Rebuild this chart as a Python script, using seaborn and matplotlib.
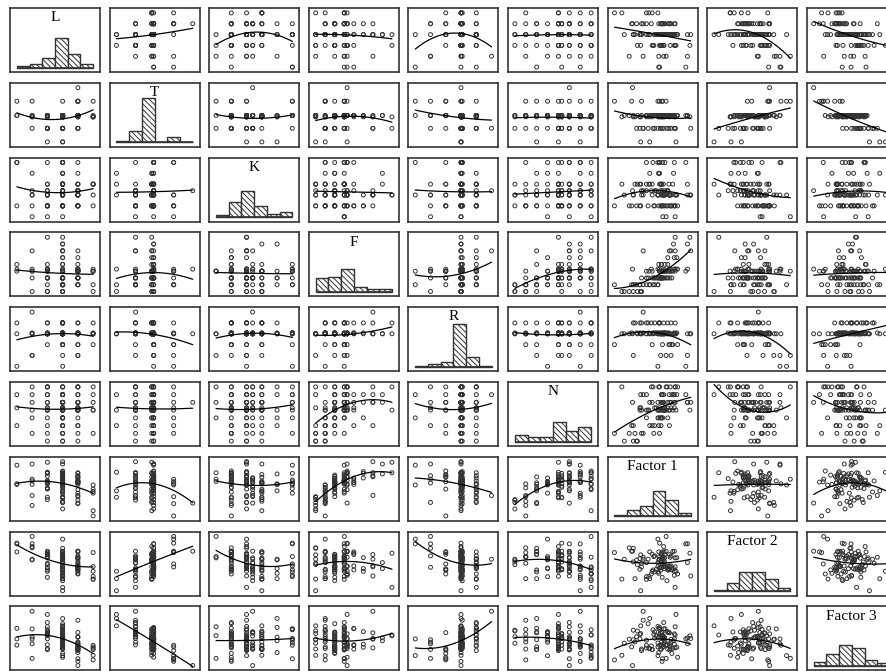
import numpy as np
import pandas as pd
import matplotlib
matplotlib.use("Agg")
import matplotlib.pyplot as plt
import seaborn as sns

names = ["L", "T", "K", "F", "R", "N", "Factor 1", "Factor 2", "Factor 3"]

L = [4, 5, 3, 4, 4, 6, 4, 5, 2, 4,
     3, 4, 4, 5, 4, 1, 4, 3, 5, 4,
     4, 5, 4, 3, 4, 4, 2, 5, 4, 6,
     5, 4, 3, 4, 4, 5, 4, 4, 3, 5,
     4, 2, 4, 5, 4, 3, 4, 6, 4, 5,
     3, 4, 5, 4, 1, 4, 4, 5, 3, 4,
     4, 5, 4, 3, 2, 4, 5, 4, 4, 6,
     5, 4, 3, 4, 4, 5, 4, 2, 4, 3,
     4, 5, 4, 6, 3, 4, 5, 4, 1, 4,
     5, 3, 4, 3, 2, 5, 4, 3, 6, 5]

T = [2.95, 2, 2.95, 2.85, 2.95, 4, 2.95, 2, 2.95, 2.85,
     2.95, 2.95, 2, 2.95, 2.85, 2.95, 1, 2.95, 4, 2.95,
     2.85, 2.95, 2.95, 2, 4, 2.95, 2.85, 2.95, 2, 2.95,
     2.95, 2, 2.85, 2.95, 2.95, 2.95, 2, 2.85, 2.95, 4,
     2.95, 2.85, 2, 2.95, 2.95, 1, 2.95, 2.85, 2.95, 2,
     2, 2.95, 2.95, 2.85, 4, 2.95, 2.85, 2.95, 2.85, 2.95,
     2.95, 2.85, 2.95, 2, 2.95, 2.95, 4, 2.95, 2, 2.85,
     5, 2.95, 2, 2.95, 2.85, 2.95, 2.95, 2, 2.95, 2.85,
     2.95, 4, 2.95, 2.85, 2, 2.95, 2.95, 1, 2.95, 2,
     2.85, 2.95, 2, 2.95, 4, 2.85, 2.95, 2, 2.85, 2.95]

K = [3, 2, 4, 3, 3.4, 2, 6, 3, 2, 4,
     2, 3, 3.4, 4, 3, 2, 5, 3, 2, 6,
     3, 4, 2, 3.4, 3, 1, 5, 3, 4, 3,
     3.4, 2, 3, 6, 2, 4, 3, 4, 2, 3,
     4, 3, 2, 3.4, 5, 3, 2, 4, 3, 2,
     2, 3.4, 3, 4, 6, 2, 3, 3.4, 2, 4,
     3, 2, 4, 1, 3, 3.4, 6, 6, 3, 4,
     3.4, 3, 2, 4, 2, 3, 5, 3.4, 3, 2,
     6, 2, 3, 4, 3.4, 2, 3, 4, 6, 3,
     2, 4, 3.4, 3, 1, 5, 2, 6, 4, 3.4]

F = [1, 2, 1, 2, 1, 2, 4, 2, 1, 2,
     3, 1, 2, 3, 7, 5, 2, 3, 2, 2,
     3, 4, 6, 3, 2, 4, 3, 3, 4, 4.3,
     4, 3, 9, 5, 4, 3, 2, 4, 4.3, 3,
     4, 4, 2, 3, 4, 4.3, 3, 4, 3, 4,
     4.3, 3, 4, 2, 4.3, 3, 4, 5, 1, 8,
     7, 6, 5, 4, 4.3, 3, 4, 3, 7, 4,
     4.3, 3, 4, 2, 3, 4, 8, 7, 6, 5,
     4.3, 4, 3, 4, 3, 3, 4.3, 1, 4, 9,
     7, 4, 3, 4.3, 4, 3, 4.3, 2, 1, 4.3]

R = [4, 4.08, 4, 5, 4, 3, 4, 4.08, 4, 5,
     4, 2, 4.08, 4, 4, 5, 4, 3, 4.08, 4,
     4.08, 4, 5, 4, 1, 4, 4.08, 4, 3, 4,
     4, 5, 4, 4.08, 4, 2, 4, 4, 4.08, 5,
     3, 4, 4.08, 4, 5, 4, 4, 4.08, 4, 2,
     4, 4.08, 4, 5, 4, 5, 4.08, 4, 4, 4,
     5, 4, 4.08, 4, 2, 4, 3, 4.08, 4, 4,
     4, 4.08, 5, 4, 4, 3, 4, 6, 4.08, 4,
     4.08, 4, 4, 5, 4, 3, 4.08, 4, 1, 5,
     4, 5, 4.08, 4, 2, 4, 3, 4.08, 4, 5]

N = [1, 1, 1, 1, 2, 2, 2, 2, 2, 2,
     2, 3, 3, 3, 3, 3, 3, 3, 3, 4,
     4, 4, 4, 4, 4, 4, 4, 5, 5, 5,
     5, 5, 5, 5, 5, 5, 5, 5, 5, 5,
     5, 5, 5, 5, 5, 5, 5, 5, 5, 5.3,
     5.3, 5.3, 5.3, 5.3, 5.3, 5.3, 5.3, 5.3, 5.3, 6,
     6, 6, 6, 6, 6, 6, 6, 6, 6, 6,
     6, 6, 6, 6, 6, 6, 7, 7, 7, 7,
     7, 7, 7, 7, 7, 7, 7, 7, 7, 8,
     8, 8, 8, 8, 8, 8, 8, 8, 8, 8]

F1 = [-2.2, -1.45, -1.4, -1.65, -1.15, -2.8, -0.05, -1.05, -1.9, -1.55,
      -0.4, -1.65, -0.35, 0.04, 0.55, -0.1, -0.65, -0.5, -1.75, -0.85,
      0.05, 0.08, 0.45, 0.0, -0.15, 0.15, -0.1, 0.12, 0.52, -0.15,
      0.25, -0.75, 1.8, 0.28, 0.35, 0.02, -0.15, 0.18, 0.22, -1.15,
      0.75, 0.2, -1.25, -0.85, -0.05, 0.95, 0.58, -0.7, 0.27, 0.65,
      0.85, -0.25, 0.23, -1.25, -0.05, -0.35, 0.26, 0.45, -1.2, 1.65,
      0.65, 0.85, 0.07, 0.9, 1.65, 0.45, 0.13, -0.15, 1.85, -0.5,
      -1.7, 0.17, 0.2, -0.65, 0.03, 0.57, 0.8, -1.05, 1.0, 0.06,
      0.85, 0.1, 0.2, -0.85, 0.11, 0.7, 0.53, -1.2, 1.55, 0.9,
      0.9, -0.05, 0.4, 0.6, 0.35, -0.1, 1.05, -0.45, -2.35, -0.55]

F2 = [0.6, 0.55, 0.2, 0.4, 0.3, 1.1, 0.8, 0.75, 1.45, -0.85,
      0.8, 1.42, -0.35, -0.2, 0.95, 1.15, -0.85, 0.97, 1.2, -0.7,
      0.62, 0.68, -0.1, -0.05, 2.1, 0.8, 0.55, 0.15, -0.2, 0.05,
      0.7, 0.6, 1.05, 0.1, 1.2, 0.0, 0.35, 0.57, 1.15, 0.02,
      1.17, 1.55, -0.15, 0.35, 0.6, -0.3, 0.05, -0.68, 0.95, 0.85,
      1.2, -0.15, -0.1, 0.65, 1.8, 0.85, 0.4, -0.2, 0.93, 0.35,
      0.1, -0.3, 1.05, 0.7, 1.75, 0.05, 0.25, -0.35, -0.65, -0.3,
      1.2, 0.75, 0.3, 1.15, 0.45, -0.12, -0.1, 0.6, 0.72, 0.95,
      -0.6, 1.15, 0.05, -0.9, -0.75, -0.2, 0.1, -1.75, 1.75, -1.5,
      0.03, -0.04, -1.0, 0.75, 2.3, -0.45, -0.5, -0.2, -0.88, -0.5]

F3 = [-0.22, 0.41, 0.97, 1.04, -0.78, -1.83, 1.12, 2.01, 0.18, -0.09,
      0.66, 0.12, 0.88, -0.81, 0.79, 1.23, 2.18, -0.84, -0.57, 0.08,
      -0.13, 0.83, 0.91, 0.77, -1.42, 0.52, 0.38, -0.63, 0.81, -0.58,
      -0.17, 1.68, 0.5, 1.19, -0.38, -0.82, 1.41, 0.44, 0.21, -0.93,
      -0.72, 1.17, 0.62, -0.68, 1.31, 2.57, -0.52, -0.71, 0.03, -0.11,
      0.69, 0.48, 0.36, 0.22, -0.41, 0.27, 0.33, -0.79, 0.72, 0.3,
      0.17, -0.31, -0.44, 1.38, -0.27, 0.84, -1.72, -0.19, 0.24, -0.83,
      -2.38, 0.19, 1.79, -0.73, 0.42, -0.88, 0.02, 2.88, -0.61, -0.36,
      0.23, -1.98, -0.53, -0.42, 0.87, -1.21, -0.28, 1.47, 0.2, 0.58,
      -0.67, 0.61, -0.38, -0.74, -1.69, -1.12, -1.58, 1.09, -1.39, -0.49]

data = pd.DataFrame({"L": L, "T": T, "K": K, "F": F, "R": R, "N": N,
                     "Factor 1": F1, "Factor 2": F2, "Factor 3": F3})

sns.set_style("white")
plt.rcParams["font.family"] = ["Liberation Serif", "DejaVu Serif"]
plt.rcParams["hatch.linewidth"] = 0.7

W, H = 887, 671
fig = plt.figure(figsize=(W / 100, H / 100), dpi=100)
fig.patch.set_facecolor("white")

EDGE = "#333333"
PAD = 0.09
HATCH = "\\\\\\\\\\\\"


def lims(v):
    lo, hi = float(np.min(v)), float(np.max(v))
    span = hi - lo
    return lo - PAD * span, hi + PAD * span


for i, yv in enumerate(names):
    for j, xv in enumerate(names):
        left = 10 + 99.6 * j
        top = 8 + 74.8 * i
        ax = fig.add_axes([left / W, 1 - (top + 64) / H, 90 / W, 64 / H])
        xs = data[xv].to_numpy()
        if i == j:
            lo, hi = xs.min(), xs.max()
            sns.histplot(x=xs, bins=6, binrange=(lo, hi), stat="count", ax=ax,
                         color="white", alpha=1, edgecolor=EDGE, linewidth=1.0,
                         hatch=HATCH)
            for p in ax.patches:
                p.set_facecolor("white")
                p.set_edgecolor(EDGE)
                p.set_hatch(HATCH)
            ax.hlines(0, lo, hi, color=EDGE, lw=1.2, zorder=3)
            ax.set_ylim(-7, 95)
            ax.text(0.5, 0.85, yv, transform=ax.transAxes, ha="center",
                    va="center", fontsize=11, color="black")
        else:
            sns.scatterplot(data=data, x=xv, y=yv, ax=ax, s=8, marker="o",
                            linewidth=0.7, legend=False)
            sc = ax.collections[-1]
            sc.set_facecolor("none")
            sc.set_edgecolor(EDGE)
            sns.regplot(data=data, x=xv, y=yv, ax=ax, scatter=False, order=2,
                        ci=None, truncate=True,
                        line_kws=dict(color="black", lw=0.9))
            ax.set_ylim(*lims(data[yv].to_numpy()))
        ax.set_xlim(*lims(xs))
        ax.set_xticks([])
        ax.set_yticks([])
        ax.set_xlabel("")
        ax.set_ylabel("")
        for s in ax.spines.values():
            s.set_visible(True)
            s.set_color(EDGE)
            s.set_linewidth(1.2)

fig.savefig("out.png", dpi=100, facecolor="white")
